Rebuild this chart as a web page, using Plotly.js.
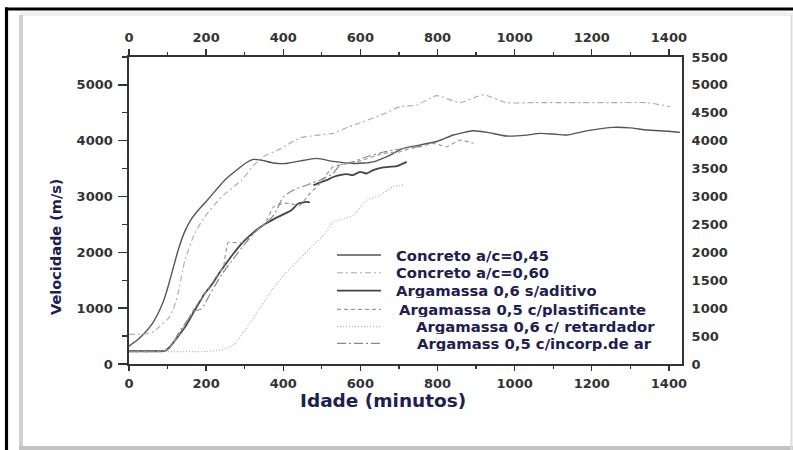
<!DOCTYPE html>
<html>
<head>
<meta charset="utf-8">
<script src="https://cdn.plot.ly/plotly-3.0.1.min.js"></script>
<style>html,body{margin:0;padding:0;background:#fff;}#chart{width:793px;height:450px;}</style>
</head>
<body>
<div id="chart"></div>
<script>
// ---- data ----
const seriesNames = [
  "Concreto a/c=0,45",
  "Concreto a/c=0,60",
  "Argamassa 0,6 s/aditivo",
  "Argamassa 0,5 c/plastificante",
  "Argamassa 0,6 c/ retardador",
  "Argamass 0,5 c/incorp.de ar"
];

const conc45X = [0, 20, 41, 60, 75, 90, 101, 115, 127, 145, 162, 180, 196, 220, 248, 280, 305, 322, 345, 375, 408, 445, 486, 530, 581, 610, 633, 670, 711, 754, 800, 841, 893, 930, 979, 1030, 1066, 1100, 1135, 1190, 1256, 1300, 1343, 1400, 1429];
const conc45Y = [320, 420, 560, 720, 900, 1140, 1380, 1730, 2030, 2380, 2600, 2760, 2880, 3070, 3293, 3480, 3610, 3665, 3650, 3600, 3593, 3640, 3683, 3630, 3593, 3600, 3622, 3720, 3863, 3922, 3990, 4102, 4179, 4150, 4084, 4100, 4132, 4120, 4102, 4180, 4240, 4230, 4192, 4170, 4150];

const conc60X = [0, 41, 65, 80, 100, 115, 127, 145, 170, 196, 240, 292, 322, 348, 391, 443, 490, 529, 570, 607, 650, 703, 746, 798, 858, 919, 979, 1050, 1150, 1250, 1343, 1403];
const conc60Y = [530, 540, 580, 680, 800, 980, 1258, 1856, 2336, 2634, 2993, 3293, 3550, 3712, 3850, 4050, 4100, 4132, 4250, 4341, 4450, 4610, 4641, 4808, 4682, 4821, 4682, 4682, 4682, 4682, 4682, 4610];

const semAditivoX = [0, 50, 93, 105, 119, 132, 145, 158, 170, 183, 196, 210, 222, 235, 248, 270, 292, 313, 335, 356, 378, 400, 421, 439, 460, 469, null, 478, 495, 512, 530, 547, 565, 581, 599, 616, 633, 659, 694, 720];
const semAditivoY = [230, 230, 235, 300, 419, 540, 658, 810, 958, 1110, 1258, 1380, 1497, 1640, 1766, 1970, 2156, 2300, 2425, 2520, 2605, 2680, 2754, 2875, 2903, 2895, null, 3203, 3250, 3293, 3350, 3383, 3400, 3383, 3443, 3413, 3473, 3521, 3545, 3622];

const plastX = [0, 60, 95, 110, 125, 140, 155, 170, 185, 200, 215, 230, 245, 257, 275, 292, 310, 335, 356, 374, 400, 420, 443, 469, 495, 529, 560, 600, 659, 703, 729, 754, 789, 807, 824, 858, 893];
const plastY = [220, 220, 240, 330, 480, 640, 820, 1000, 1150, 1300, 1450, 1600, 1750, 2175, 2175, 2175, 2250, 2420, 2550, 2810, 2880, 2870, 2844, 3054, 3234, 3532, 3580, 3640, 3773, 3802, 3863, 3892, 3952, 3922, 3892, 4012, 3952];

const retardX = [0, 100, 200, 248, 274, 300, 335, 370, 404, 439, 473, 508, 529, 581, 616, 651, 685, 711];
const retardY = [220, 220, 225, 269, 359, 598, 958, 1317, 1617, 1856, 2095, 2336, 2540, 2660, 2934, 3024, 3180, 3203];

const incorpX = [0, 60, 100, 115, 127, 145, 170, 188, 210, 240, 270, 300, 330, 360, 378, 400, 426, 460, 495, 529, 547, 581, 616, 650, 685, 720, 760];
const incorpY = [220, 220, 250, 380, 539, 720, 950, 988, 1250, 1600, 1880, 2150, 2380, 2550, 2695, 2993, 3114, 3203, 3293, 3413, 3563, 3622, 3712, 3780, 3832, 3870, 3900];

const xTicks = [0, 200, 400, 600, 800, 1000, 1200, 1400];
const yLeftTicks = [0, 1000, 2000, 3000, 4000, 5000];
const yRightTicks = [0, 500, 1000, 1500, 2000, 2500, 3000, 3500, 4000, 4500, 5000, 5500];

const xTitle = "Idade (minutos)";
const yTitle = "Velocidade (m/s)";

// ---- styles ----
const styles = [
  {color: "#555555", width: 1.4, dash: "solid"},
  {color: "#ababab", width: 1.1, dash: "6px,3px,2px,3px"},
  {color: "#444444", width: 1.8, dash: "solid"},
  {color: "#9a9a9a", width: 1.2, dash: "4px,3px"},
  {color: "#b0b0b0", width: 1.2, dash: "1px,2px"},
  {color: "#8a8a8a", width: 1.2, dash: "9px,3px,2px,3px"}
];
const seriesX = [conc45X, conc60X, semAditivoX, plastX, retardX, incorpX];
const seriesY = [conc45Y, conc60Y, semAditivoY, plastY, retardY, incorpY];

const traces = seriesX.map((xs, i) => ({
  type: "scatter", mode: "lines", name: seriesNames[i],
  x: xs, y: seriesY[i], connectgaps: false,
  line: {color: styles[i].color, width: styles[i].width, dash: styles[i].dash, shape: "spline", smoothing: 0.5},
  showlegend: false, hoverinfo: "skip"
}));
traces.push({type: "scatter", mode: "lines", x: [], y: [], xaxis: "x2", yaxis: "y2", showlegend: false, hoverinfo: "skip"});

// ---- layout geometry ----
const L = 129, T = 57, R = 682, B = 364;
const W = R - L, H = B - T;
const px = v => (v - L) / W;
const py = v => (B - v) / H;

const tickFont = {family: "DejaVu Sans", size: 13, color: "#333333", weight: "bold"};
const navy = "#20204f";

const axisCommon = {
  showline: true, linecolor: "#333333", linewidth: 1.6,
  showgrid: false, zeroline: false, tickcolor: "#333333", tickwidth: 1.4,
  tickfont: tickFont
};

const shapes = [
  // frame decoration
  {type: "rect", xref: "paper", yref: "paper", x0: px(20), x1: px(793), y0: py(12), y1: py(16), fillcolor: "#efefef", line: {width: 0}},
  {type: "rect", xref: "paper", yref: "paper", x0: px(19), x1: px(23), y0: py(15), y1: py(450), fillcolor: "#cfcfcf", line: {width: 0}},
  {type: "rect", xref: "paper", yref: "paper", x0: px(19), x1: px(793), y0: py(446), y1: py(450), fillcolor: "#c2c2c2", line: {width: 0}},
  {type: "line", xref: "paper", yref: "paper", x0: px(791.5), x1: px(791.5), y0: py(15), y1: py(450), line: {color: "#dddddd", width: 2}},
  {type: "line", xref: "paper", yref: "paper", x0: px(5), x1: px(793), y0: py(9), y1: py(9), line: {color: "#000000", width: 3.2}},
  {type: "line", xref: "paper", yref: "paper", x0: px(6.5), x1: px(6.5), y0: py(7.5), y1: py(450), line: {color: "#000000", width: 3.2}}
];

const legendRowsY = [255, 272.7, 290.7, 309.3, 326.7, 343.3];
const legendTextX = [395, 395, 395, 398, 415, 416];
const annotations = [];
seriesNames.forEach((n, i) => {
  shapes.push({type: "line", xref: "paper", yref: "paper", x0: px(337), x1: px(381), y0: py(legendRowsY[i]), y1: py(legendRowsY[i]),
    line: {color: styles[i].color, width: styles[i].width, dash: styles[i].dash}});
  annotations.push({xref: "paper", yref: "paper", x: px(legendTextX[i]), y: py(legendRowsY[i]), xanchor: "left", yanchor: "middle",
    text: n, showarrow: false, height: 15, borderpad: 0,
    font: {family: "DejaVu Sans", size: 14.8, color: navy, weight: "bold"}});
});
annotations.push({xref: "paper", yref: "paper", x: px(382.5), y: py(400), xanchor: "center", yanchor: "middle",
  text: xTitle, showarrow: false, font: {family: "DejaVu Sans", size: 18.5, color: navy, weight: "bold"}});
annotations.push({xref: "paper", yref: "paper", x: px(56), y: py(247), xanchor: "center", yanchor: "middle", textangle: -90,
  text: yTitle, showarrow: false, font: {family: "DejaVu Sans", size: 14.5, color: navy, weight: "bold"}});

const layout = {
  width: 793, height: 450,
  margin: {l: L, r: 793 - R, t: T, b: 450 - B, pad: 0},
  paper_bgcolor: "#ffffff", plot_bgcolor: "#ffffff",
  showlegend: false,
  xaxis: Object.assign({}, axisCommon, {
    range: [0, 1434], tickmode: "array", tickvals: xTicks, ticktext: xTicks.map(String),
    ticks: "outside", ticklen: 5, ticklabelstandoff: 2,
    minor: {dtick: 100, tick0: 0, ticks: "outside", ticklen: 3, tickcolor: "#333333", tickwidth: 1.2}
  }),
  xaxis2: Object.assign({}, axisCommon, {
    range: [0, 1434], overlaying: "x", side: "top", anchor: "y2",
    tickmode: "array", tickvals: xTicks, ticktext: xTicks.map(String),
    ticks: "outside", ticklen: 6, ticklabelstandoff: 2,
    minor: {dtick: 100, tick0: 0, ticks: "outside", ticklen: 3, tickcolor: "#333333", tickwidth: 1.2}
  }),
  yaxis: Object.assign({}, axisCommon, {
    range: [0, 5500], tickmode: "array", tickvals: yLeftTicks, ticktext: yLeftTicks.map(String),
    ticks: "outside", ticklen: 9, ticklabelstandoff: 3,
    minor: {dtick: 500, tick0: 0, ticks: "outside", ticklen: 5, tickcolor: "#333333", tickwidth: 1.2}
  }),
  yaxis2: Object.assign({}, axisCommon, {
    range: [0, 5500], overlaying: "y", side: "right", anchor: "x2",
    tickmode: "array", tickvals: yRightTicks, ticktext: yRightTicks.map(String),
    ticks: "", linewidth: 2, ticklabelstandoff: 5
  }),
  shapes: shapes,
  annotations: annotations
};

Plotly.newPlot("chart", traces, layout, {staticPlot: true, displayModeBar: false});
</script>
</body>
</html>
